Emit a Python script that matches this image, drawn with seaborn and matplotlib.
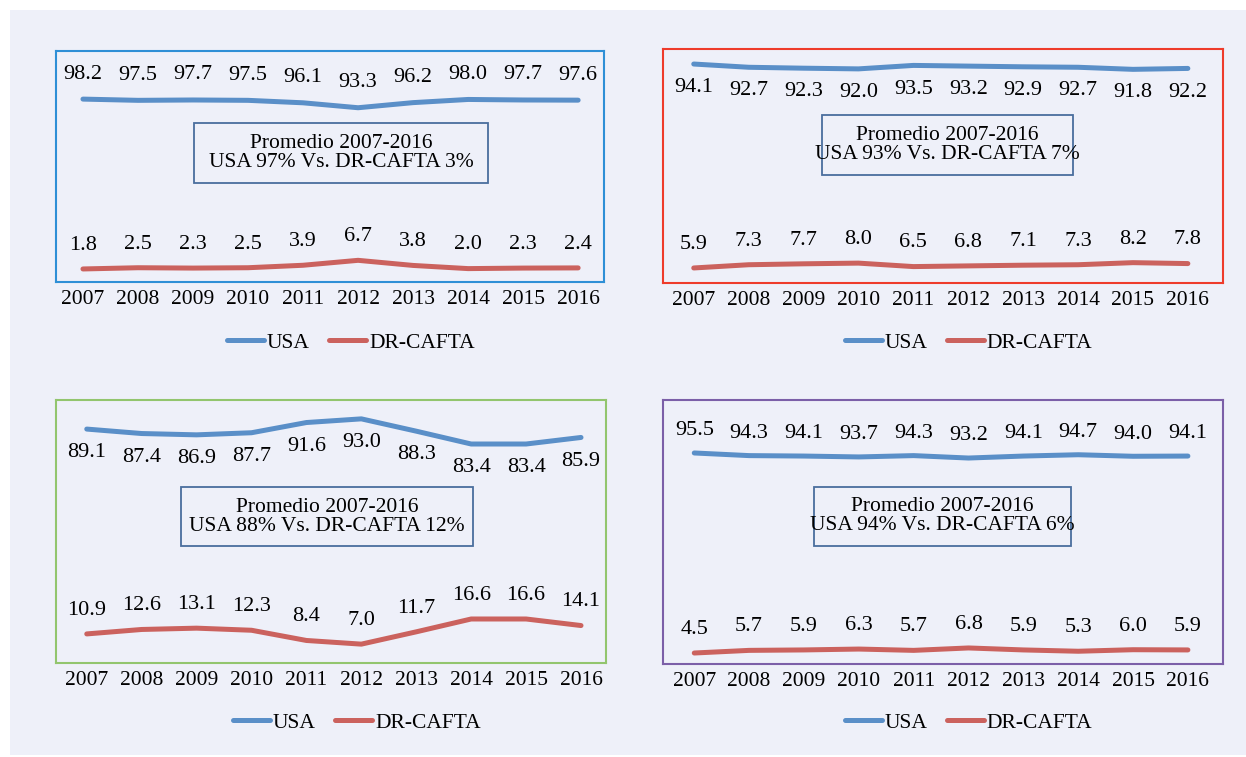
import matplotlib
matplotlib.use("Agg")
import matplotlib.pyplot as plt
import seaborn as sns
from matplotlib.patches import Rectangle

# Datos (participación %, 2007-2016)
years = [2007, 2008, 2009, 2010, 2011, 2012, 2013, 2014, 2015, 2016]

usa_a = [98.2, 97.5, 97.7, 97.5, 96.1, 93.3, 96.2, 98.0, 97.7, 97.6]
cafta_a = [1.8, 2.5, 2.3, 2.5, 3.9, 6.7, 3.8, 2.0, 2.3, 2.4]

usa_b = [94.1, 92.7, 92.3, 92.0, 93.5, 93.2, 92.9, 92.7, 91.8, 92.2]
cafta_b = [5.9, 7.3, 7.7, 8.0, 6.5, 6.8, 7.1, 7.3, 8.2, 7.8]

usa_c = [89.1, 87.4, 86.9, 87.7, 91.6, 93.0, 88.3, 83.4, 83.4, 85.9]
cafta_c = [10.9, 12.6, 13.1, 12.3, 8.4, 7.0, 11.7, 16.6, 16.6, 14.1]

usa_d = [95.5, 94.3, 94.1, 93.7, 94.3, 93.2, 94.1, 94.7, 94.0, 94.1]
cafta_d = [4.5, 5.7, 5.9, 6.3, 5.7, 6.8, 5.9, 5.3, 6.0, 5.9]

box_texts = ["Promedio 2007-2016\nUSA 97% Vs. DR-CAFTA 3%",
             "Promedio 2007-2016\nUSA 93% Vs. DR-CAFTA 7%",
             "Promedio 2007-2016\nUSA 88% Vs. DR-CAFTA 12%",
             "Promedio 2007-2016\nUSA 94% Vs. DR-CAFTA 6%"]

sns.set_style("white")
plt.rcParams['font.family'] = ['Liberation Serif', 'DejaVu Serif']
plt.rcParams['text.color'] = 'black'

bg = '#EEF0F9'
blue = '#5A8FC8'
red = '#CB625E'

fig = plt.figure(figsize=(12.46, 7.57), dpi=100, facecolor='white')
fig.patches.append(Rectangle((10 / 1246, 2 / 757), 1, 745 / 757, transform=fig.transFigure,
                             facecolor=bg, edgecolor='none', zorder=-10))

# panel settings: axes rect, frame colour, ylim, xlim pad, label offsets, box rect, legend pos
panels = [
    dict(rect=[56 / 1246, 1 - 282 / 757, 548 / 1246, 231 / 757], frame='#2E8FD6',
         ylim=(-5.6, 125.5), xpad=(0.49, 0.47), off=(18, 17),
         box=(0.252, 0.429, 0.536, 0.26), leg=(0.538, -0.264),
         usa=usa_a, cafta=cafta_a),
    dict(rect=[663 / 1246, 1 - 283 / 757, 560 / 1246, 234 / 757], frame='#EE3B2B',
         ylim=(-0.6, 100.6), xpad=(0.56, 0.64), off=(-17, 17),
         box=(0.284, 0.462, 0.448, 0.256), leg=(0.546, -0.256),
         usa=usa_b, cafta=cafta_b),
    dict(rect=[56 / 1246, 1 - 663 / 757, 550 / 1246, 263 / 757], frame='#92C56E',
         ylim=(-0.2, 100.2), xpad=(0.56, 0.455), off=(-17, 17),
         box=(0.227, 0.445, 0.531, 0.224), leg=(0.547, -0.228),
         usa=usa_c, cafta=cafta_c),
    dict(rect=[663 / 1246, 1 - 664 / 757, 560 / 1246, 264 / 757], frame='#7B5FA8',
         ylim=(-0.5, 119.6), xpad=(0.57, 0.64), off=(16, 17),
         box=(0.27, 0.447, 0.459, 0.224), leg=(0.546, -0.223),
         usa=usa_d, cafta=cafta_d),
]

for p, txt in zip(panels, box_texts):
    ax = fig.add_axes(p['rect'])
    ax.set_facecolor('none')
    sns.lineplot(x=years, y=p['usa'], color=blue, linewidth=3.6, label='USA', ax=ax,
                 solid_capstyle='round', solid_joinstyle='round')
    sns.lineplot(x=years, y=p['cafta'], color=red, linewidth=3.6, label='DR-CAFTA', ax=ax,
                 solid_capstyle='round', solid_joinstyle='round')

    for series, off in zip([p['usa'], p['cafta']], p['off']):
        for x, v in zip(years, series):
            ax.annotate(f"{v:.1f}", (x, v), xytext=(0, off), textcoords='offset points',
                        ha='center', va='center', fontsize=16, color='black')

    ax.set_ylim(*p['ylim'])
    ax.set_xlim(years[0] - p['xpad'][0], years[-1] + p['xpad'][1])
    ax.set_xticks(years)
    ax.set_xticklabels([str(y) for y in years])
    ax.set_yticks([])
    ax.set_xlabel('')
    ax.set_ylabel('')
    ax.tick_params(axis='x', length=0, pad=6, labelsize=15.5, colors='black')
    for s in ax.spines.values():
        s.set_visible(True)
        s.set_color(p['frame'])
        s.set_linewidth(1.5)

    bx, by, bw, bh = p['box']
    ax.add_patch(Rectangle((bx, by), bw, bh, transform=ax.transAxes, facecolor=bg,
                           edgecolor='#4A6E9E', linewidth=1.3, zorder=3))
    ax.text(bx + bw / 2, by + bh / 2, txt, transform=ax.transAxes, ha='center', va='center',
            fontsize=15.5, linespacing=1.0, color='black', zorder=4)

    leg = ax.legend(loc='center', bbox_to_anchor=p['leg'], ncol=2, frameon=False, fontsize=15.5,
                    handlelength=1.7, handletextpad=0.15, columnspacing=0.9)
    for t in leg.get_texts():
        t.set_color('black')

fig.savefig('out.png', dpi=100, facecolor='white')
